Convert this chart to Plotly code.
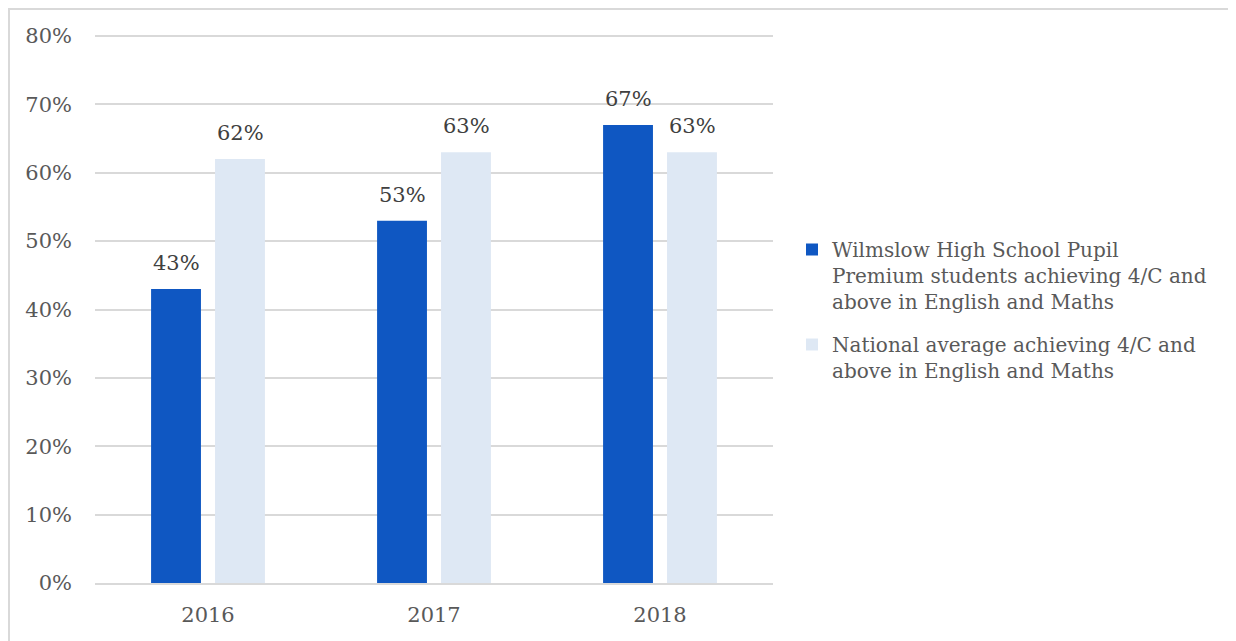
import plotly.graph_objects as go

years = ["2016", "2017", "2018"]
school = [0.43, 0.53, 0.67]
national = [0.62, 0.63, 0.63]
series_names = [
    "Wilmslow High School Pupil<br>Premium students achieving 4/C and<br>above in English and Maths",
    "National average achieving 4/C and<br>above in English and Maths",
]
tick_vals = [0, 0.1, 0.2, 0.3, 0.4, 0.5, 0.6, 0.7, 0.8]
tick_text = ["0%", "10%", "20%", "30%", "40%", "50%", "60%", "70%", "80%"]

FONT = "DejaVu Serif"

fig = go.Figure()
fig.add_trace(go.Bar(
    x=years, y=school, name=series_names[0], legendgroup="a",
    marker=dict(color="#0F57C2", line=dict(width=0)),
))
fig.add_trace(go.Bar(
    x=years, y=national, name=series_names[1], legendgroup="b",
    marker=dict(color="#DEE8F4", line=dict(width=0)),
))

# data labels above bars (category index positions, shifted onto each bar of the group)
for vals, dx in ((school, -32), (national, 32)):
    for i, v in enumerate(vals):
        fig.add_annotation(x=i, y=v, xref="x", yref="y", text=f"{round(v*100)}%",
                           showarrow=False, xshift=dx, yanchor="bottom", yshift=12,
                           font=dict(size=21, color="#404040", family=FONT))

# plot area in figure pixels (page has an 8px body offset)
L, R, T, B = 87, 765, 27, 575
pw = R - L
ph = B - T
fig.add_shape(type="rect", xref="paper", yref="paper",
              x0=(1 - L) / pw, x1=(1226 - L) / pw,
              y0=(B - 700) / ph, y1=(B - 1) / ph,
              line=dict(color="#D9D9D9", width=2), layer="below")

fig.update_layout(
    width=1236, height=641,
    margin=dict(l=L, r=1236 - R, t=T, b=641 - B),
    paper_bgcolor="white", plot_bgcolor="white",
    font=dict(family=FONT, size=20, color="#595959"),
    barmode="group", bargap=0.434, bargroupgap=0.22,
    showlegend=True,
    legend=dict(x=(784 - L) / pw, y=(B - 302) / ph, xanchor="left", yanchor="middle",
                font=dict(size=20, color="#595959", family=FONT),
                tracegroupgap=14, itemwidth=30, traceorder="grouped", valign="top"),
    xaxis=dict(type="category", range=[-0.5, len(years) - 0.5], showgrid=False,
               showline=True, linecolor="#D9D9D9", linewidth=2, ticks="",
               ticklabelstandoff=12, tickfont=dict(size=21, color="#595959")),
    yaxis=dict(range=[0, 0.8015], tickvals=tick_vals, ticktext=tick_text,
               showgrid=True, gridcolor="#D9D9D9", gridwidth=1.5,
               zeroline=False, showline=False, ticks="", ticklabelstandoff=22,
               tickfont=dict(size=21, color="#595959")),
)

fig.write_html("out.html")
